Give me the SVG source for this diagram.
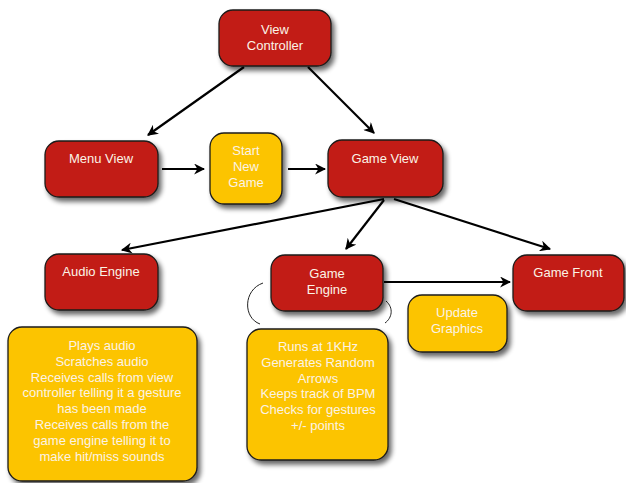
<svg xmlns="http://www.w3.org/2000/svg" width="626" height="483" viewBox="0 0 626 483">
<defs>
<filter id="sh" x="-20%" y="-20%" width="150%" height="150%">
<feGaussianBlur in="SourceAlpha" stdDeviation="2.5"/>
<feOffset dx="3" dy="4" result="b"/>
<feComponentTransfer><feFuncA type="linear" slope="0.6"/></feComponentTransfer>
<feMerge><feMergeNode/><feMergeNode in="SourceGraphic"/></feMerge>
</filter>
<marker id="ah" viewBox="0 0 10 10" refX="9" refY="5" markerWidth="5" markerHeight="5" orient="auto-start-reverse" markerUnits="strokeWidth">
<path d="M0,0 L10,5 L0,10 L3,5 z" fill="#000"/>
</marker>
</defs>
<style>
.red{fill:#c21e17;stroke:#1a1a1a;stroke-width:1.3;filter:url(#sh)}
.yel{fill:#fcc400;stroke:#1a1a1a;stroke-width:1.3;filter:url(#sh)}
text{font-family:"Liberation Sans",Arial,sans-serif;font-size:13px;fill:#fbf3e6;text-anchor:middle}
.c{fill:none;stroke:#000;stroke-width:2.2;marker-end:url(#ah)}
.br{fill:none;stroke:#222;stroke-width:1}
</style>
<rect width="626" height="483" fill="#fff"/>
<g id="connectors">
<line class="c" x1="244" y1="67" x2="148" y2="135"/>
<line class="c" x1="308" y1="67" x2="374" y2="133"/>
<line class="c" x1="162" y1="169" x2="204" y2="169"/>
<line class="c" x1="288" y1="169" x2="325" y2="169"/>
<line class="c" x1="384" y1="199" x2="122" y2="250"/>
<line class="c" x1="384" y1="200" x2="346" y2="249"/>
<line class="c" x1="394" y1="199" x2="550" y2="249"/>
<line class="c" x1="384" y1="282" x2="510" y2="282"/>
<path class="br" d="M263,283 C243,290 243,318 260,324"/>
<path class="br" d="M386,301 C394,308 392,318 385,323"/>
</g>
<g id="view-controller"><rect class="red" x="219" y="10" width="112" height="56" rx="14"/><text x="275" y="34">View</text><text x="275" y="50">Controller</text></g>
<g id="menu-view"><rect class="red" x="45" y="141" width="113" height="56" rx="14"/><text x="101" y="163">Menu View</text></g>
<g id="start-new-game"><rect class="yel" x="210" y="133" width="72" height="71" rx="14"/><text x="246" y="155">Start</text><text x="246" y="171">New</text><text x="246" y="187">Game</text></g>
<g id="game-view"><rect class="red" x="328" y="140" width="115" height="57" rx="14"/><text x="385" y="163">Game View</text></g>
<g id="audio-engine"><rect class="red" x="45" y="254" width="113" height="56" rx="14"/><text x="101" y="276">Audio Engine</text></g>
<g id="game-engine"><rect class="red" x="271" y="255" width="112" height="56" rx="14"/><text x="327" y="278">Game</text><text x="327" y="294">Engine</text></g>
<g id="game-front"><rect class="red" x="513" y="255" width="111" height="56" rx="14"/><text x="568" y="277">Game Front</text></g>
<g id="update-graphics"><rect class="yel" x="408" y="295" width="99" height="57" rx="14"/><text x="457" y="317">Update</text><text x="457" y="333">Graphics</text></g>
<g id="audio-info"><rect class="yel" x="8" y="327" width="189" height="154" rx="14"/>
<text x="102" y="350">Plays audio</text><text x="102" y="366">Scratches audio</text><text x="102" y="382">Receives calls from view</text><text x="102" y="397">controller telling it a gesture</text><text x="102" y="413">has been made</text><text x="102" y="429">Receives calls from the</text><text x="102" y="445">game engine telling it to</text><text x="102" y="461">make hit/miss sounds</text></g>
<g id="engine-info"><rect class="yel" x="247" y="329" width="141" height="131" rx="14"/>
<text x="318" y="351">Runs at 1KHz</text><text x="318" y="367">Generates Random</text><text x="318" y="383">Arrows</text><text x="318" y="398">Keeps track of BPM</text><text x="318" y="414">Checks for gestures</text><text x="318" y="430">+/- points</text></g>
</svg>
